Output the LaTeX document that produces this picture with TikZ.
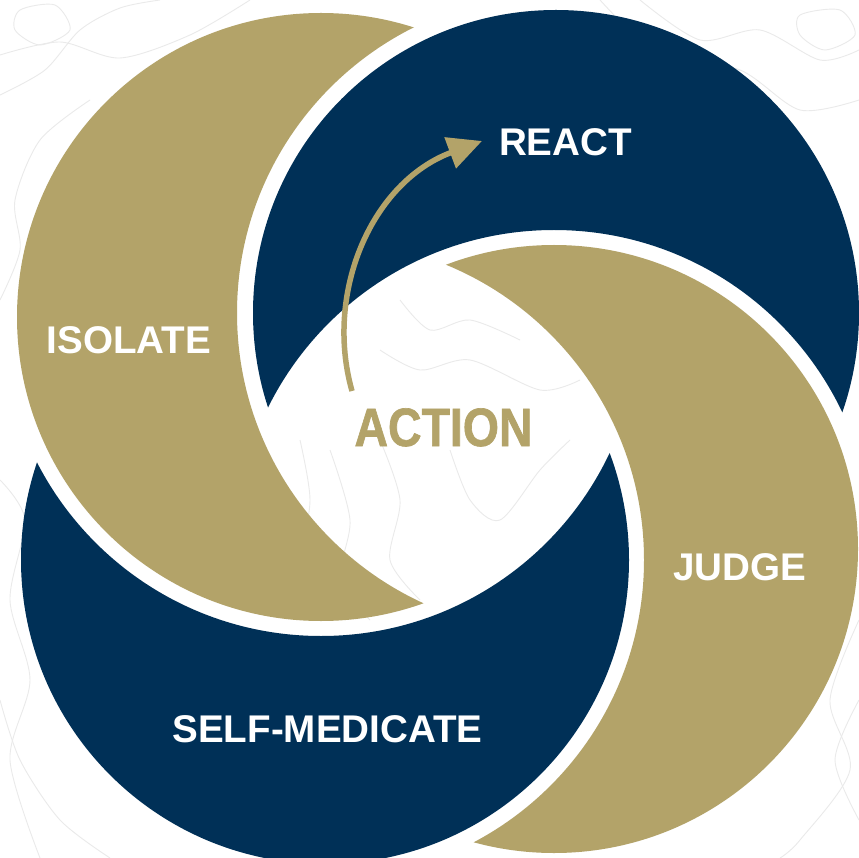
\documentclass[tikz,border=0pt]{standalone}
\usepackage{fontspec}
\setmainfont{Liberation Sans}
\newfontfamily\actfont[FakeStretch=0.86, FakeBold=1.2]{Liberation Sans Bold}
\usetikzlibrary{arrows.meta}
\definecolor{navy}{HTML}{003057}
\definecolor{gold}{HTML}{B3A369}
\definecolor{topo}{HTML}{EAEAEA}
\begin{document}
\begin{tikzpicture}[x=1pt,y=-1pt,
  lbl/.style={text=white, font=\bfseries\fontsize{38.6}{40}\selectfont, inner sep=0pt, anchor=base},
  topoline/.style={draw=topo, line width=0.9pt},
  arr/.style={draw=gold, line width=5.5pt, -{Triangle[length=34pt,width=32pt]}}]
\useasboundingbox (0,0) rectangle (859,858);
\fill[white] (0,0) rectangle (859,858);
% faint topographic background lines
\draw[topoline] plot[smooth] coordinates {(0,55) (60,42) (120,58) (190,35) (250,0)};
\draw[topoline] plot[smooth] coordinates {(0,95) (45,70) (80,30) (120,8) (160,0)};
\draw[topoline] plot[smooth cycle] coordinates {(20,10) (55,5) (70,30) (40,45) (15,30)};
\draw[topoline] plot[smooth] coordinates {(0,300) (20,250) (15,200) (40,140) (90,100)};
\draw[topoline] plot[smooth] coordinates {(640,0) (700,40) (760,30) (820,60) (859,50)};
\draw[topoline] plot[smooth] coordinates {(600,0) (660,55) (740,70) (800,110) (859,100)};
\draw[topoline] plot[smooth cycle] coordinates {(800,15) (840,10) (855,35) (825,50) (800,35)};
\draw[topoline] plot[smooth] coordinates {(0,480) (25,520) (10,600) (30,680) (10,760) (40,858)};
\draw[topoline] plot[smooth] coordinates {(0,700) (20,760) (60,820) (110,858)};
\draw[topoline] plot[smooth] coordinates {(859,620) (830,700) (850,770) (800,840) (780,858)};
\draw[topoline] plot[smooth] coordinates {(859,700) (835,760) (859,820)};
\draw[topoline] plot[smooth] coordinates {(330,450) (350,520) (340,580) (370,620)};
\draw[topoline] plot[smooth] coordinates {(380,440) (400,500) (390,560) (420,600)};
\draw[topoline] plot[smooth] coordinates {(450,450) (470,500) (500,520) (540,470) (570,440)};
\draw[topoline] plot[smooth] coordinates {(300,440) (310,500) (300,560)};
\draw[topoline] plot[smooth] coordinates {(400,300) (430,330) (470,320) (520,340)};
\draw[topoline] plot[smooth] coordinates {(380,350) (420,370) (470,360) (540,390) (580,380)};
% crescents
\begin{scope}[even odd rule]
  \clip (-10,-10) rectangle (870,870) (556,313) circle[radius=319pt];
  \fill[gold] (321,317) circle[radius=304pt];
\end{scope}
\begin{scope}[even odd rule]
  \clip (-10,-10) rectangle (870,870) (554,549) circle[radius=319pt];
  \fill[navy] (556,313) circle[radius=303pt];
\end{scope}
\begin{scope}[even odd rule]
  \clip (-10,-10) rectangle (870,870) (325,560) circle[radius=319pt];
  \fill[gold] (554,549) circle[radius=304pt];
\end{scope}
\begin{scope}[even odd rule]
  \clip (-10,-10) rectangle (870,870) (321,317) circle[radius=319pt];
  \fill[navy] (325,560) circle[radius=304pt];
\end{scope}
% arrow
\coordinate (atail) at (352,391);
\coordinate (ahead) at (482,141);
\draw[arr] (atail) .. controls (324,292) and (372,182) .. (ahead);
% labels
\node[lbl] (react) at (565.5,156) {REACT};
\node[lbl] (isolate) at (129,353) {ISOLATE};
\node[lbl] (judge) at (739.5,580) {JUDGE};
\node[lbl] (selfmed) at (327.5,742) {SELF-MEDICATE};
\node[lbl, text=gold, font=\actfont\fontsize{54}{56}\selectfont] (action) at (443.5,446) {ACTION};
\end{tikzpicture}
\end{document}
